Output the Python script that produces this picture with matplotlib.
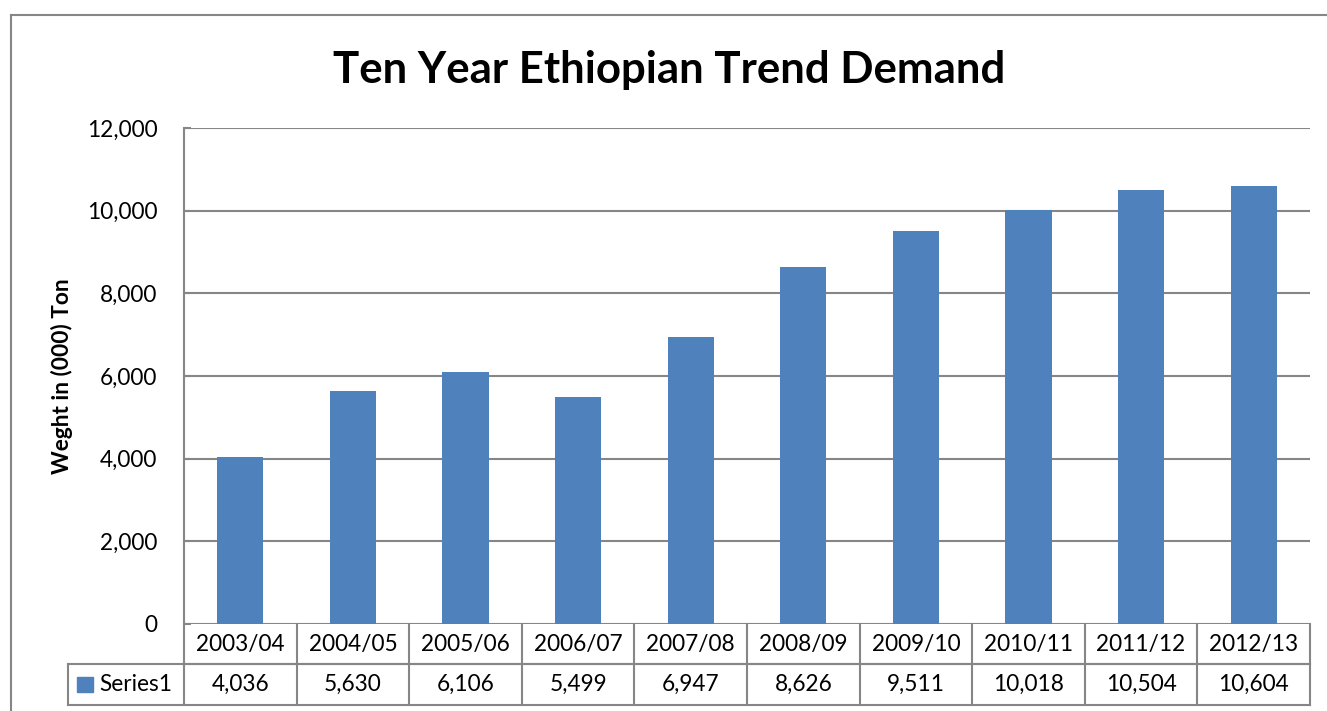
import matplotlib
matplotlib.use("Agg")
import matplotlib.pyplot as plt
from matplotlib.lines import Line2D
from matplotlib.patches import Rectangle

categories = ["2003/04", "2004/05", "2005/06", "2006/07", "2007/08",
              "2008/09", "2009/10", "2010/11", "2011/12", "2012/13"]
values = [4036, 5630, 6106, 5499, 6947, 8626, 9511, 10018, 10504, 10604]
series_name = "Series1"
yticks = [0, 2000, 4000, 6000, 8000, 10000, 12000]
title = "Ten Year Ethiopian Trend Demand"
ylabel = "Weght in (000) Ton"

plt.rcParams['font.family'] = ['Lato', 'DejaVu Sans']
BAR = "#4F81BD"
GRID = "#868686"
FS = 16.3

W, H = 1327, 711
fig = plt.figure(figsize=(W / 100, H / 100), dpi=100)

# outer chart border
fig.add_artist(Line2D([11 / W, 11 / W], [1 - 15 / H, 0], transform=fig.transFigure,
                      color=GRID, lw=1.5))
fig.add_artist(Line2D([11 / W, 1], [1 - 15 / H, 1 - 15 / H], transform=fig.transFigure,
                      color=GRID, lw=1.5))

left, right, top, bottom = 184, 1310, 128, 624
pw, ph = right - left, bottom - top
ax = fig.add_axes([left / W, 1 - bottom / H, pw / W, ph / H])

x = list(range(len(categories)))
ax.bar(x, values, width=0.41, color=BAR, zorder=3)
ax.set_xlim(-0.5, len(categories) - 0.5)
ax.set_ylim(0, 12000)
ax.set_yticks(yticks)
ax.set_yticklabels([f"{v:,}" for v in yticks], fontsize=FS)
ax.set_xticks([])
ax.yaxis.grid(True, color=GRID, lw=1.5, zorder=0)
for s in ["top", "right", "bottom"]:
    ax.spines[s].set_visible(False)
ax.spines["left"].set_color(GRID)
ax.spines["left"].set_linewidth(1.5)
ax.tick_params(axis="y", direction="in", length=5, color=GRID, width=1.5, pad=19)

ax.set_ylabel(ylabel, fontsize=16.3, fontweight="bold")
ax.yaxis.set_label_coords(-(left - 73) / pw, 0.5)

fig.text(0.5 + 11 / W / 2, 1 - 70 / H, title, ha="center", va="center",
         fontsize=31.5, fontweight="bold")

# data table below the axes
r1 = -(664 - bottom) / ph
r2 = -(705 - bottom) / ph
leg_left = -(left - 68) / pw
xt = ax.get_xaxis_transform()
kw = dict(color=GRID, lw=1.5, clip_on=False)
n = len(categories)
ax.plot([-0.5, n - 0.5], [r1, r1], transform=xt, **kw)
ax.plot([leg_left, 1], [r1, r1], transform=ax.transAxes, **kw)
ax.plot([leg_left, 1], [r2, r2], transform=ax.transAxes, **kw)
ax.plot([leg_left, leg_left], [r1, r2], transform=ax.transAxes, **kw)
ax.plot([0, 0], [0, r2], transform=ax.transAxes, **kw)
for i in range(n):
    ax.plot([i + 0.5, i + 0.5], [0, r2], transform=xt, **kw)
    ax.text(i, r1 / 2, categories[i], transform=xt, ha="center", va="center", fontsize=FS)
    ax.text(i, (r1 + r2) / 2, f"{values[i]:,}", transform=xt, ha="center", va="center",
            fontsize=FS)

# legend key in table
ax.add_patch(Rectangle((-(left - 77) / pw, -(692 - bottom) / ph),
                       16 / pw, 15 / ph,
                       transform=ax.transAxes, color=BAR, clip_on=False))
ax.text(-(left - 99) / pw, (r1 + r2) / 2, series_name, transform=ax.transAxes,
        ha="left", va="center", fontsize=FS)

fig.savefig("out.png", dpi=100)
